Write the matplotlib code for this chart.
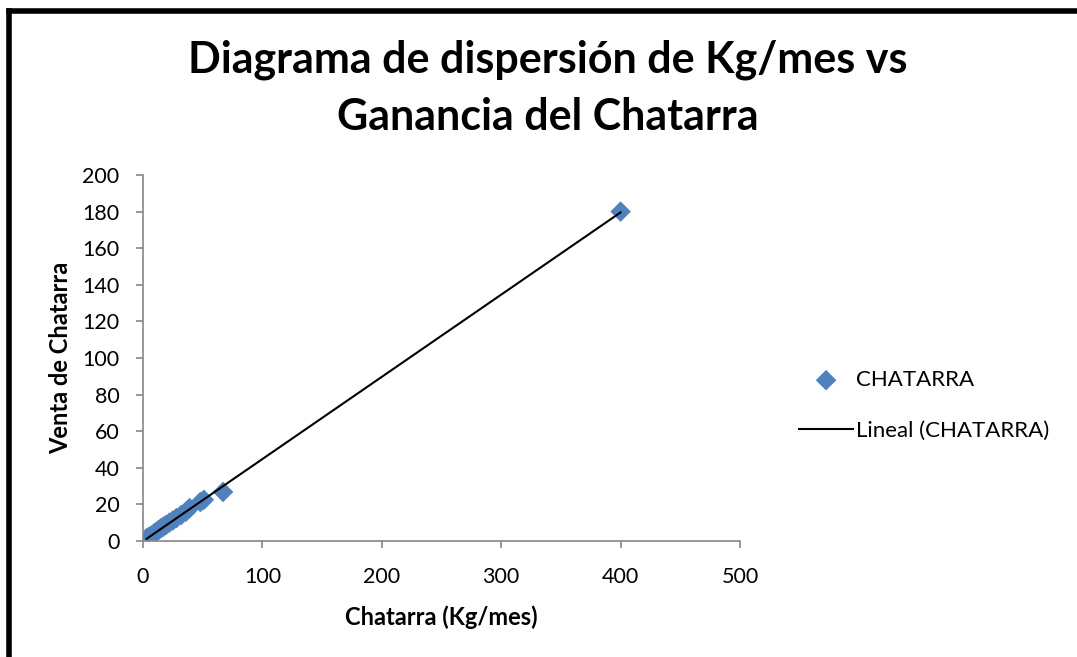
import numpy as np
import matplotlib.pyplot as plt
from matplotlib.lines import Line2D

plt.rcParams['font.family'] = ['Lato', 'DejaVu Sans']

# Kg/mes de chatarra y venta correspondiente
kg_mes = [3, 5, 7, 9, 11, 13, 15, 17, 19, 22, 25, 28, 32, 36, 39, 48, 51, 67, 400]
venta = [1.5, 2.3, 3.0, 4.0, 5.0, 6.0, 7.0, 7.8, 8.6, 10.0, 11.2, 12.5, 14.2, 16.0, 18.0, 21.3, 22.5, 26.8, 180]

x_ticks = [0, 100, 200, 300, 400, 500]
y_ticks = [0, 20, 40, 60, 80, 100, 120, 140, 160, 180, 200]

fig = plt.figure(figsize=(10.77, 6.57), dpi=100)
ax = fig.add_axes([0.1328, 0.1766, 0.5543, 0.557])

x = np.array(kg_mes)
y = np.array(venta)
ax.scatter(x, y, marker='D', s=110, color='#4F81BD', edgecolors='none',
           zorder=2, label='CHATARRA')

# recta de tendencia lineal
m, b = np.polyfit(x, y, 1)
xs = np.array([x.min(), x.max()])
ax.plot(xs, m * xs + b, color='black', lw=1.5, zorder=3, label='Lineal (CHATARRA)')

ax.set_xlim(0, 500)
ax.set_ylim(0, 200)
ax.set_xticks(x_ticks)
ax.set_yticks(y_ticks)
for s in ['top', 'right']:
    ax.spines[s].set_visible(False)
for s in ['left', 'bottom']:
    ax.spines[s].set_color('#868686')
    ax.spines[s].set_linewidth(1.2)
ax.tick_params(colors='#868686', labelcolor='black', labelsize=15.5, length=5, width=1.2)
ax.tick_params(axis='x', pad=14)
ax.tick_params(axis='y', pad=12)

ax.set_xlabel('Chatarra (Kg/mes)', fontsize=17, fontweight='bold', labelpad=13)
ax.set_ylabel('Venta de Chatarra', fontsize=17, fontweight='bold', labelpad=7)

fig.text(0.509, 0.866, 'Diagrama de dispersión de Kg/mes vs\nGanancia del Chatarra',
         ha='center', va='center', fontsize=31, fontweight='bold', linespacing=1.5)

ax.legend(loc='center left', bbox_to_anchor=(1.066, 0.37), frameon=False,
          fontsize=16, handlelength=2.4, handletextpad=0.15, labelspacing=1.4)

# marco del gráfico
fig.add_artist(Line2D([0.0085, 0.0085], [0, 0.984], color='black', lw=4,
                      transform=fig.transFigure))
fig.add_artist(Line2D([0.0085, 1.0], [0.984, 0.984], color='black', lw=4,
                      transform=fig.transFigure))

fig.savefig('out.png', dpi=100, facecolor='white')
